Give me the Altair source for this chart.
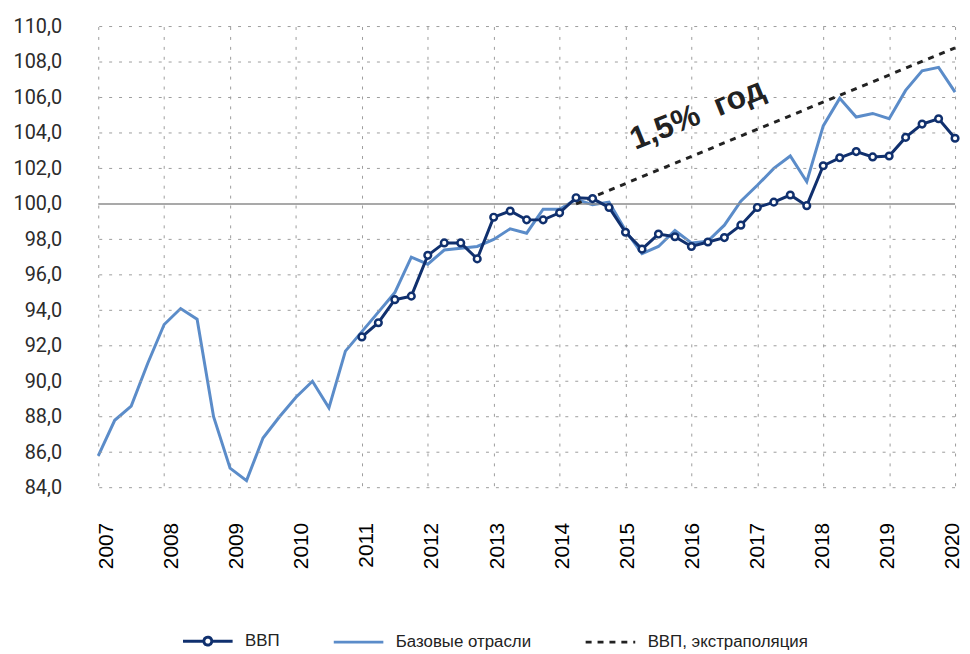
import altair as alt
import pandas as pd

# ---- data -------------------------------------------------------------
quarters = [f"{y}Q{q}" for y in range(2007, 2020) for q in range(1, 5)] + ["2020Q1"]

base_industries = [85.8, 87.8, 88.6, 91.0, 93.2, 94.1, 93.5, 88.0, 85.1, 84.4,
                   86.8, 88.0, 89.1, 90.0, 88.5, 91.7, 92.8, 93.9, 95.0, 97.0,
                   96.6, 97.4, 97.5, 97.6, 98.0, 98.6, 98.35, 99.7, 99.7, 100.25,
                   99.95, 100.1, 98.5, 97.2, 97.6, 98.5, 97.8, 97.9, 98.8, 100.15,
                   101.05, 102.0, 102.7, 101.25, 104.4, 105.95, 104.9, 105.1, 104.8, 106.4,
                   107.5, 107.7, 106.3]

gdp_quarters = quarters[16:]
gdp = [92.5, 93.3, 94.6, 94.8, 97.1, 97.8, 97.8, 96.9, 99.25, 99.6,
       99.1, 99.1, 99.5, 100.35, 100.3, 99.8, 98.4, 97.45, 98.3, 98.15,
       97.6, 97.85, 98.1, 98.8, 99.8, 100.1, 100.5, 99.9, 102.15, 102.6,
       102.95, 102.65, 102.7, 103.75, 104.5, 104.8, 103.7]

extrap_quarters = ["2014Q2", "2020Q1"]
extrap = [100.0, 108.8]

series_names = ["ВВП", "Базовые отрасли", "ВВП, экстраполяция"]
year_ticks = list(range(2007, 2021))
y_ticks = list(range(84, 111, 2))
baseline_value = 100

annotation_text = "1,5%\u00a0 год"
annotation_quarter = "2016Q1"
annotation_value = 105.05

# ---- helpers ----------------------------------------------------------
def qpos(s):
    return int(s[:4]) + (int(s[5]) - 1) / 4.0

DARK = "#10306e"
LIGHT = "#5b8cc9"
BLACK = "#222222"
GRID = "#9c9c9c"

base_df = pd.DataFrame({"t": [qpos(q) for q in quarters], "v": base_industries})
gdp_df = pd.DataFrame({"t": [qpos(q) for q in gdp_quarters], "v": gdp})
ext_df = pd.DataFrame({"t": [qpos(q) for q in extrap_quarters], "v": extrap})
ref_df = pd.DataFrame({"v": [baseline_value]})
hgrid_df = pd.DataFrame({"v": [float(v) for v in y_ticks if v != baseline_value]})
ann_df = pd.DataFrame({"t": [qpos(annotation_quarter) + 0.09], "v": [annotation_value],
                       "label": [annotation_text]})
legend_df = pd.DataFrame({"series": series_names, "t": [2010.0] * 3, "v": [90.0] * 3})

x_scale = alt.Scale(domain=[2007, 2020], nice=False, zero=False)
y_scale = alt.Scale(domain=[84, 110], nice=False, zero=False)

# year labels in the original drift slightly left relative to the gridlines
x_label_offset = {
    "condition": [{"test": f"datum.value == {yr}", "value": round(8.5 - 0.85 * (yr - 2007), 2)}
                  for yr in year_ticks],
    "value": 0,
}

x_axis = alt.Axis(values=year_ticks, format="d", labelAngle=270, labelAlign="right",
                  labelBaseline="middle", labelOffset=x_label_offset, labelPadding=35,
                  labelFont="Liberation Sans", labelFontSize=21, labelFontWeight="normal",
                  labelColor="#000000", ticks=False, domain=False, grid=True,
                  gridDash=[3, 7], gridColor=GRID, gridWidth=1, title=None,
                  labelFlush=False, labelOverlap=False)
y_axis = alt.Axis(values=y_ticks, labelExpr="replace(format(datum.value, '.1f'), '.', ',')",
                  labelPadding=37, labelFont="Roboto", labelFontSize=20,
                  labelFontWeight="normal", labelColor="#2b2b2b", ticks=False,
                  domain=False, grid=False, title=None, labelOverlap=False,
                  labelFlush=False, tickCount=14)

x_enc = alt.X("t:Q", scale=x_scale, axis=x_axis)
y_enc = alt.Y("v:Q", scale=y_scale, axis=y_axis)

hgrid = alt.Chart(hgrid_df).mark_rule(color=GRID, strokeWidth=1,
                                      strokeDash=[3, 7]).encode(y=y_enc)

light = alt.Chart(base_df).mark_line(color=LIGHT, strokeWidth=3).encode(x=x_enc, y=y_enc)

rule100 = alt.Chart(ref_df).mark_rule(color="#8c8c8c", strokeWidth=1.5).encode(y=y_enc)

ext = alt.Chart(ext_df).mark_line(color=BLACK, strokeWidth=3, strokeDash=[6, 6]).encode(
    x=x_enc, y=y_enc)

dark = alt.Chart(gdp_df).mark_line(color=DARK, strokeWidth=3).encode(x=x_enc, y=y_enc)

markers = alt.Chart(gdp_df).mark_circle(fill="white", stroke=DARK, strokeWidth=2.5,
                                        size=45, opacity=1).encode(x=x_enc, y=y_enc)

ann = alt.Chart(ann_df).mark_text(angle=338, font="Liberation Sans", fontWeight="bold",
                                  fontSize=32, color=BLACK, align="center",
                                  baseline="middle").encode(x=x_enc, y=y_enc, text="label:N")

gdp_symbol = ("M-1,0H-0.16M0.16,0H1M-0.16,0A0.16,0.16,0,1,1,0.16,0"
              "A0.16,0.16,0,1,1,-0.16,0Z")

legend = alt.Legend(orient="none", legendX=84, legendY=593, direction="horizontal",
                    columns=3, title=None, symbolSize=2500, symbolStrokeWidth=3,
                    labelFont="Liberation Sans", labelFontSize=17, labelColor="#222222",
                    labelOffset=11, columnPadding=48, padding=0, labelLimit=400)

legend_layer = alt.Chart(legend_df).transform_filter("false").mark_point(
    filled=False, fill="white", opacity=1, strokeWidth=3).encode(
    x=x_enc, y=y_enc,
    color=alt.Color("series:N", scale=alt.Scale(domain=series_names,
                                                range=[DARK, LIGHT, BLACK]),
                    legend=legend, sort=series_names),
    shape=alt.Shape("series:N", scale=alt.Scale(domain=series_names,
                                                range=[gdp_symbol, "stroke", "stroke"]),
                    legend=legend, sort=series_names),
    strokeDash=alt.StrokeDash("series:N", scale=alt.Scale(domain=series_names,
                                                          range=[[1, 0], [1, 0], [6, 6]]),
                              legend=legend, sort=series_names),
)

chart = alt.layer(light, hgrid, rule100, ext, dark, markers, ann, legend_layer).properties(
    width=864, height=465,
    autosize=alt.AutoSizeParams(type="none"),
    padding={"left": 91, "top": 16, "right": 7, "bottom": 163},
).configure_view(stroke=None).configure_axis(labelOverlap=False)

chart.save("out.html", embed_options={"renderer": "svg", "actions": False})
